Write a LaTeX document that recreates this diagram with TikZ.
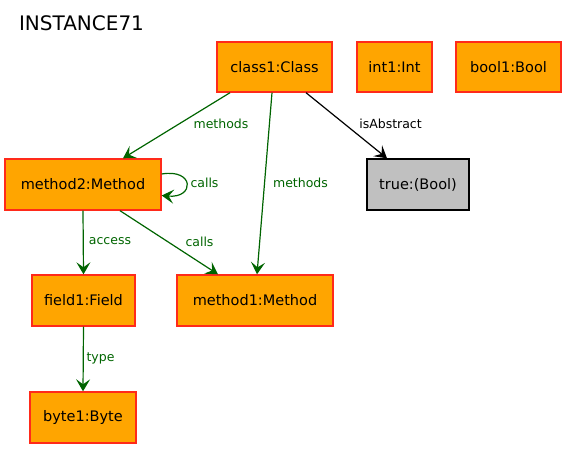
\documentclass[tikz,border=0pt]{standalone}
\usepackage{fontspec}
\setmainfont{DejaVu Sans}
\usetikzlibrary{arrows.meta,calc}
\definecolor{nodeor}{HTML}{FFA500}
\definecolor{nodebd}{HTML}{FF2A1A}
\definecolor{edgegr}{HTML}{006400}
\definecolor{valgray}{HTML}{C0C0C0}
\begin{document}
\begin{tikzpicture}[x=1pt,y=-1pt,
  obj/.style={draw=nodebd,fill=nodeor,line width=1.4pt,minimum height=50pt,inner sep=0pt,font=\fontsize{14.5}{17}\selectfont},
  val/.style={draw=black,fill=valgray,line width=1.4pt,minimum height=51pt,inner sep=0pt,font=\fontsize{14.5}{17}\selectfont},
  tip/.style={-{Stealth[length=12pt,width=14pt,inset=5pt]}},
  conn/.style={draw=edgegr,line width=1.2pt,tip},
  bconn/.style={draw=black,line width=1.2pt,tip},
  lbl/.style={text=edgegr,font=\fontsize{12.5}{14}\selectfont,inner sep=0pt},
  blbl/.style={text=black,font=\fontsize{12.5}{14}\selectfont,inner sep=0pt}]
\useasboundingbox (0,0) rectangle (565,449);
\node[inner sep=0pt,font=\fontsize{20}{24}\selectfont] (title) at (81.5,23) {INSTANCE71};
\node[obj,minimum width=115pt] (class1) at (274.5,67) {class1:Class};
\node[obj,minimum width=75pt] (int1) at (394.5,67) {int1:Int};
\node[obj,minimum width=105pt] (bool1) at (508.5,67) {bool1:Bool};
\node[obj,minimum width=156pt,minimum height=51pt] (method2) at (83,184.5) {method2:Method};
\node[val,minimum width=102pt] (true) at (418,184.5) {true:(Bool)};
\node[obj,minimum width=103pt,minimum height=51pt] (field1) at (83.5,300.5) {field1:Field};
\node[obj,minimum width=156pt,minimum height=51pt] (method1) at (255,300.5) {method1:Method};
\node[obj,minimum width=106pt,minimum height=51pt] (byte1) at (83,417.5) {byte1:Byte};
\draw[conn] ($(class1.south)+(-44.5,0)$) -- ($(method2.north)+(40,0)$);
\draw[conn] ($(class1.south)+(-2.5,0)$) -- ($(method1.north)+(2,0)$);
\draw[bconn] ($(class1.south)+(31.5,0)$) -- ($(true.north)+(-31,0)$);
\draw[conn] ($(method2.east)+(0,-10.5)$) .. controls ($(method2.east)+(33,-16)$) and ($(method2.east)+(33,14)$) .. ($(method2.east)+(0,11)$);
\draw[conn] (method2.south) -- (field1.north);
\draw[conn] ($(method2.south)+(37,0)$) -- ($(method1.north)+(-37,0)$);
\draw[conn] (field1.south) -- (byte1.north);
\node[lbl] (l1) at (221,124) {methods};
\node[lbl] (l2) at (300.5,183) {methods};
\node[blbl] (l3) at (390.5,124) {isAbstract};
\node[lbl] (l4) at (204.5,183) {calls};
\node[lbl] (l5) at (110,241.5) {access};
\node[lbl] (l6) at (199.5,241.5) {calls};
\node[lbl] (l7) at (100.5,358) {type};
\end{tikzpicture}
\end{document}
